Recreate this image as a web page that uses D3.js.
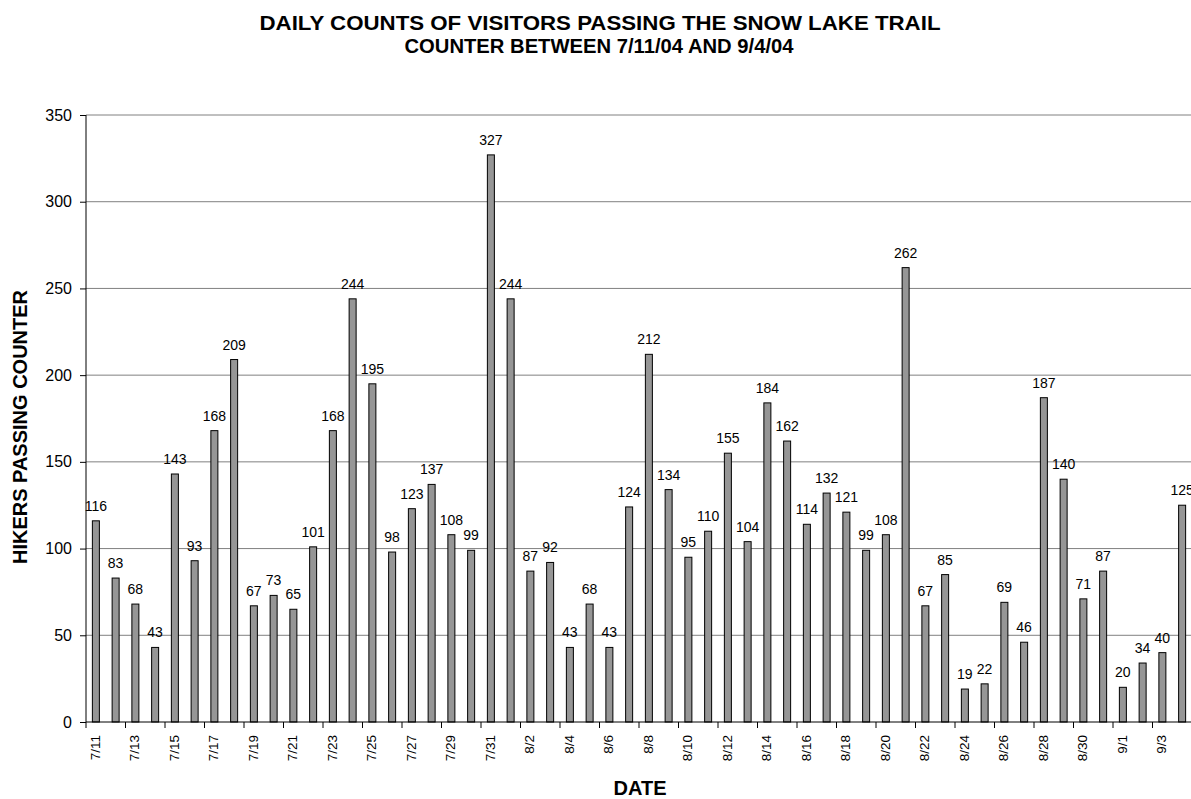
<!DOCTYPE html>
<html>
<head>
<meta charset="utf-8">
<script src="https://cdn.jsdelivr.net/npm/d3@7"></script>
<style>
  body { margin: 0; background: #fff; }
  svg text { font-family: "Liberation Sans", Arial, sans-serif; fill: #000; }
</style>
</head>
<body>
<script>
let w = 1191;
let h = 799;

// plot box
let plotLeft = 86;
let plotTop = 115;
let plotBottom = 722;
let bandW = 19.75;

const dates = ["7/11","7/12","7/13","7/14","7/15","7/16","7/17","7/18","7/19","7/20",
               "7/21","7/22","7/23","7/24","7/25","7/26","7/27","7/28","7/29","7/30",
               "7/31","8/1","8/2","8/3","8/4","8/5","8/6","8/7","8/8","8/9",
               "8/10","8/11","8/12","8/13","8/14","8/15","8/16","8/17","8/18","8/19",
               "8/20","8/21","8/22","8/23","8/24","8/25","8/26","8/27","8/28","8/29",
               "8/30","8/31","9/1","9/2","9/3","9/4"];
const hikers = [116,83,68,43,143,93,168,209,67,73,
                65,101,168,244,195,98,123,137,108,99,
                327,244,87,92,43,68,43,124,212,134,
                95,110,155,104,184,162,114,132,121,99,
                108,262,67,85,19,22,69,46,187,140,
                71,87,20,34,40,125];
const yTicks = [0,50,100,150,200,250,300,350];

let svg = d3.select("body")
            .append("svg")
            .attr("width", w)
            .attr("height", h);

let x = d3.scaleBand(dates, [plotLeft, plotLeft + bandW * dates.length]);
let y = d3.scaleLinear([0, 350], [plotBottom, plotTop]);

// gridlines
svg.append("g")
   .selectAll("line")
   .data(yTicks.slice(1))
   .enter()
   .append("line")
   .attr("x1", plotLeft)
   .attr("x2", w)
   .attr("y1", d => y(d))
   .attr("y2", d => y(d))
   .attr("stroke", "#808080")
   .attr("stroke-width", 1);

// bars
svg.append("g")
   .selectAll("rect")
   .data(hikers)
   .enter()
   .append("rect")
   .attr("x", (d, i) => x(dates[i]) + x.bandwidth() / 2 - 3.5)
   .attr("width", 7)
   .attr("y", d => y(d))
   .attr("height", d => plotBottom - y(d))
   .attr("fill", "#969696")
   .attr("stroke", "#000")
   .attr("stroke-width", 1);

// value labels
svg.append("g")
   .selectAll("text")
   .data(hikers)
   .enter()
   .append("text")
   .attr("x", (d, i) => x(dates[i]) + x.bandwidth() / 2)
   .attr("y", d => y(d) - 10)
   .attr("text-anchor", "middle")
   .attr("font-size", "14px")
   .text(d => d);

// y axis
let yAxis = d3.axisLeft(y).tickValues(yTicks).tickSize(6).tickPadding(8);
let yg = svg.append("g")
   .attr("transform", `translate(${plotLeft},0)`)
   .call(yAxis);
yg.selectAll("text").attr("font-size", "16px").attr("font-family", null);
yg.selectAll("line, path").attr("stroke", "#000");
yg.select(".domain").attr("d", `M0,${plotBottom}V${plotTop}`);

// x axis: line + ticks every other category boundary
svg.append("line")
   .attr("x1", plotLeft).attr("x2", w)
   .attr("y1", plotBottom).attr("y2", plotBottom)
   .attr("stroke", "#000");
svg.append("g")
   .selectAll("line")
   .data(dates.filter((d, i) => i % 2 == 0))
   .enter()
   .append("line")
   .attr("x1", d => x(d)).attr("x2", d => x(d))
   .attr("y1", plotBottom).attr("y2", plotBottom + 6)
   .attr("stroke", "#000");
svg.append("g")
   .selectAll("text")
   .data(dates.filter((d, i) => i % 2 == 0))
   .enter()
   .append("text")
   .attr("transform", d => `translate(${x(d) + x.bandwidth() / 2 + 4},${plotBottom + 13}) rotate(-90)`)
   .attr("text-anchor", "end")
   .attr("font-size", "13.5px")
   .text(d => d);

// titles
let title = svg.append("text")
   .attr("text-anchor", "middle")
   .attr("font-size", "20px")
   .attr("font-weight", "bold");
title.append("tspan").attr("x", 600).attr("y", 30)
     .attr("textLength", 681).attr("lengthAdjust", "spacingAndGlyphs")
     .text("DAILY COUNTS OF VISITORS PASSING THE SNOW LAKE TRAIL");
title.append("tspan").attr("x", 599).attr("y", 53)
     .attr("textLength", 389).attr("lengthAdjust", "spacingAndGlyphs")
     .text("COUNTER BETWEEN 7/11/04 AND 9/4/04");

svg.append("text")
   .attr("x", 640)
   .attr("y", 795)
   .attr("text-anchor", "middle")
   .attr("font-size", "20px")
   .attr("font-weight", "bold")
   .text("DATE");

svg.append("text")
   .attr("transform", `translate(27,427) rotate(-90)`)
   .attr("text-anchor", "middle")
   .attr("font-size", "20px")
   .attr("font-weight", "bold")
   .text("HIKERS PASSING COUNTER");
</script>
</body>
</html>
